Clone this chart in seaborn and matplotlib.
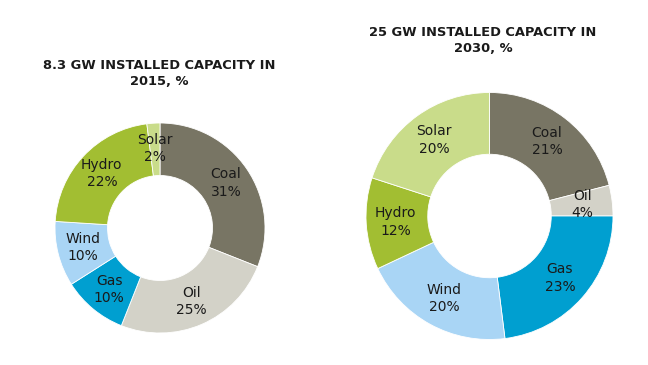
import matplotlib
matplotlib.use("Agg")
import matplotlib.pyplot as plt
import seaborn as sns

# data
sources = ["Coal", "Oil", "Gas", "Wind", "Hydro", "Solar"]
share_2015 = [31, 25, 10, 10, 22, 2]
share_2030 = [21, 4, 23, 20, 12, 20]
title_2015 = "8.3 GW INSTALLED CAPACITY IN\n2015, %"
title_2030 = "25 GW INSTALLED CAPACITY IN\n2030, %"
colors = ["#787564", "#d3d2c8", "#009fd0", "#a9d5f5", "#a2be32", "#c9dc8a"]

sns.set_theme(style="white")
plt.rcParams["font.family"] = ["DejaVu Sans"]

fig = plt.figure(figsize=(6.48, 3.65), dpi=100)
fig.patch.set_facecolor("white")


def donut(ax, values):
    ax.pie(values, colors=colors, startangle=90, counterclock=False,
           radius=1, labels=[f"{s}\n{v}%" for s, v in zip(sources, values)],
           labeldistance=0.76,
           wedgeprops=dict(width=0.5, edgecolor="white", linewidth=0.6),
           textprops=dict(fontsize=10, color="#1a1a1a", ha="center",
                          va="center", linespacing=1.3))
    ax.set_xlim(-1, 1)
    ax.set_ylim(-1, 1)
    ax.set_aspect("equal")
    ax.axis("off")


# left donut: centre (160, 228) px, radius 105 px
ax1 = fig.add_axes([55 / 648, 32 / 365, 210 / 648, 210 / 365])
donut(ax1, share_2015)

# right donut: centre (489.5, 216) px, radius 123.5 px
ax2 = fig.add_axes([366 / 648, 25.5 / 365, 247 / 648, 247 / 365])
donut(ax2, share_2030)

fig.text(159 / 648, 1 - 73.5 / 365, title_2015, ha="center", va="center",
         fontsize=9.4, fontweight="bold", color="#1a1a1a", linespacing=1.3)
fig.text(483 / 648, 1 - 41 / 365, title_2030, ha="center", va="center",
         fontsize=9.4, fontweight="bold", color="#1a1a1a", linespacing=1.3)

fig.savefig("out.png", dpi=100, facecolor="white")
